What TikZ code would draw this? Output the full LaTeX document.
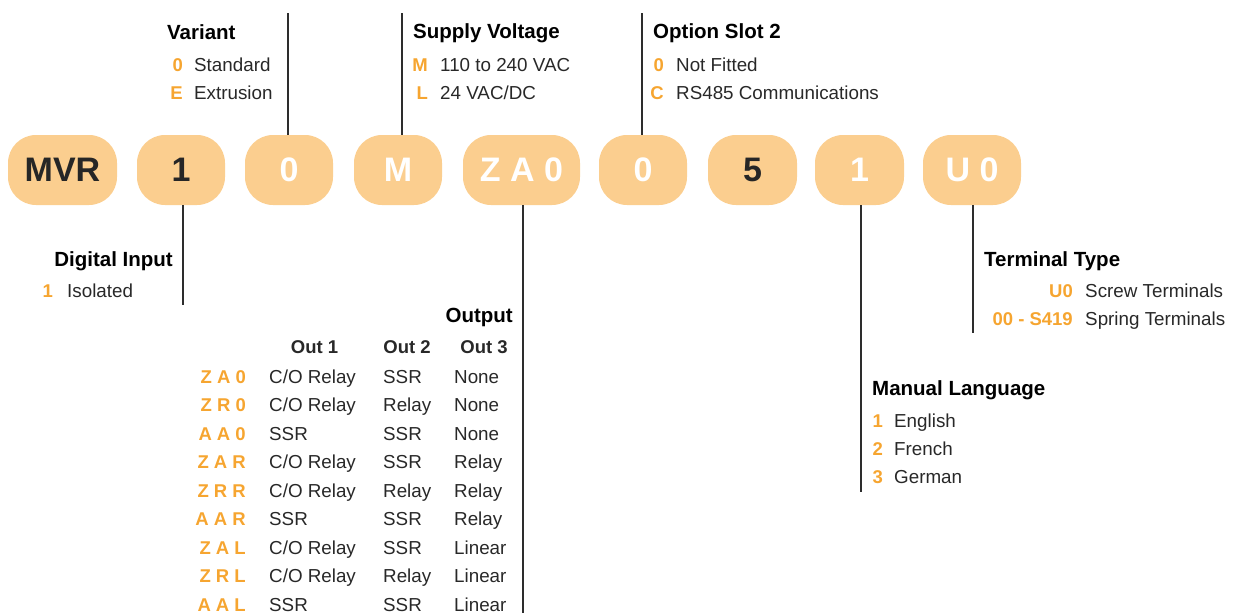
\documentclass[tikz,border=0pt]{standalone}
\usepackage{fontspec}
\setmainfont{Liberation Sans}
\definecolor{pillc}{RGB}{251,206,143}
\definecolor{orng}{RGB}{246,165,48}
\definecolor{txtc}{RGB}{40,40,40}
\definecolor{linec}{RGB}{45,45,45}
\newcommand\myhead{\fontsize{20.5}{24}\selectfont\bfseries}
\newcommand\mybody{\fontsize{18.8}{22}\selectfont}
\newcommand\mycode{\fontsize{18.5}{22}\selectfont\bfseries}
\newcommand\mypill{\fontsize{34}{40}\selectfont\bfseries}
\tikzset{
  pill/.style={fill=pillc, rounded corners=28pt, minimum height=70pt, inner sep=0pt, font=\mypill, text=white},
  darkpill/.style={pill, text=black!85},
  head/.style={anchor=base west, inner sep=0pt, font=\myhead, text=black},
  heade/.style={head, anchor=base east},
  item/.style={anchor=base west, inner sep=0pt, font=\mybody, text=txtc},
  codee/.style={anchor=base east, inner sep=0pt, font=\mycode, text=orng},
  colh/.style={anchor=base, inner sep=0pt, font=\mycode, text=txtc},
  conn/.style={draw=linec, line width=2.2pt},
}
\begin{document}
\begin{tikzpicture}[x=1pt,y=-1pt]
\useasboundingbox (0,0) rectangle (1240,613);
% pills
\node[darkpill, minimum width=109pt] (p1) at (62.5,170) {MVR};
\node[darkpill, minimum width=88pt] (p2) at (181,170) {1};
\node[pill, minimum width=88pt] (p3) at (289,170) {0};
\node[pill, minimum width=88pt] (p4) at (398,170) {M};
\node[pill, minimum width=117pt] (p5) at (521.5,170) {Z A 0};
\node[pill, minimum width=88pt] (p6) at (643,170) {0};
\node[darkpill, minimum width=89pt] (p7) at (752.5,170) {5};
\node[pill, minimum width=89pt] (p8) at (859.5,170) {1};
\node[pill, minimum width=98pt] (p9) at (972,170) {U 0};
% connector ends
\coordinate (cvar) at (288,13);
\coordinate (csup) at (402,13);
\coordinate (copt) at (642,13);
\coordinate (cdig) at (183,305);
\coordinate (cout) at (523,613);
\coordinate (cman) at (861,492);
\coordinate (cter) at (973,333);
\draw[conn] (cvar) -- (cvar |- p3.north);
\draw[conn] (csup) -- (csup |- p4.north);
\draw[conn] (copt) -- (copt |- p6.north);
\draw[conn] (cdig |- p2.south) -- (cdig);
\draw[conn] (cout |- p5.south) -- (cout);
\draw[conn] (cman |- p8.south) -- (cman);
\draw[conn] (cter |- p9.south) -- (cter);
% Variant
\node[head] (hvar) at (167,39) {Variant};
\node[codee] (v0c) at (183,71) {0};
\node[item] (v0) at (194,71) {Standard};
\node[codee] (v1c) at (183,99) {E};
\node[item] (v1) at (194,99) {Extrusion};
% Supply
\node[head] (hsup) at (413,38) {Supply Voltage};
\node[codee] (s0c) at (428,71) {M};
\node[item] (s0) at (440,71) {110 to 240 VAC};
\node[codee] (s1c) at (428,99) {L};
\node[item] (s1) at (440,99) {24 VAC/DC};
% Option
\node[head] (hopt) at (653,38) {Option Slot 2};
\node[codee] (o0c) at (664,71) {0};
\node[item] (o0) at (676,71) {Not Fitted};
\node[codee] (o1c) at (664,99) {C};
\node[item] (o1) at (676,99) {RS485 Communications};
% Digital input
\node[heade] (hdig) at (173,266) {Digital Input};
\node[codee] (d0c) at (53,297) {1};
\node[item] (d0) at (67,297) {Isolated};
% Output
\node[heade] (hout) at (513,322) {Output};
\node[colh] (oh1) at (314.5,353) {Out 1};
\node[colh] (oh2) at (407,353) {Out 2};
\node[colh] (oh3) at (484,353) {Out 3};
\foreach \c/\a/\b/\d [count=\i from 0] in {
  Z A 0/C\slash O Relay/SSR/None,
  Z R 0/C\slash O Relay/Relay/None,
  A A 0/SSR/SSR/None,
  Z A R/C\slash O Relay/SSR/Relay,
  Z R R/C\slash O Relay/Relay/Relay,
  A A R/SSR/SSR/Relay,
  Z A L/C\slash O Relay/SSR/Linear,
  Z R L/C\slash O Relay/Relay/Linear,
  A A L/SSR/SSR/Linear}{
  \pgfmathsetmacro\yy{383+28.5*\i}
  \node[codee] (rc\i) at (246,\yy) {\c};
  \node[item] (ra\i) at (269,\yy) {\a};
  \node[item] (rb\i) at (383,\yy) {\b};
  \node[item] (rd\i) at (454,\yy) {\d};
}
% Terminal type
\node[head] (hter) at (984,266) {Terminal Type};
\node[codee] (t0c) at (1073,297) {U0};
\node[item] (t0) at (1085,297) {Screw Terminals};
\node[codee] (t1c) at (1073,325) {00 - S419};
\node[item] (t1) at (1085,325) {Spring Terminals};
% Manual language
\node[head] (hman) at (872,395) {Manual Language};
\node[codee] (m0c) at (883,427) {1};
\node[item] (m0) at (894,427) {English};
\node[codee] (m1c) at (883,455) {2};
\node[item] (m1) at (894,455) {French};
\node[codee] (m2c) at (883,483) {3};
\node[item] (m2) at (894,483) {German};
\end{tikzpicture}
\end{document}
